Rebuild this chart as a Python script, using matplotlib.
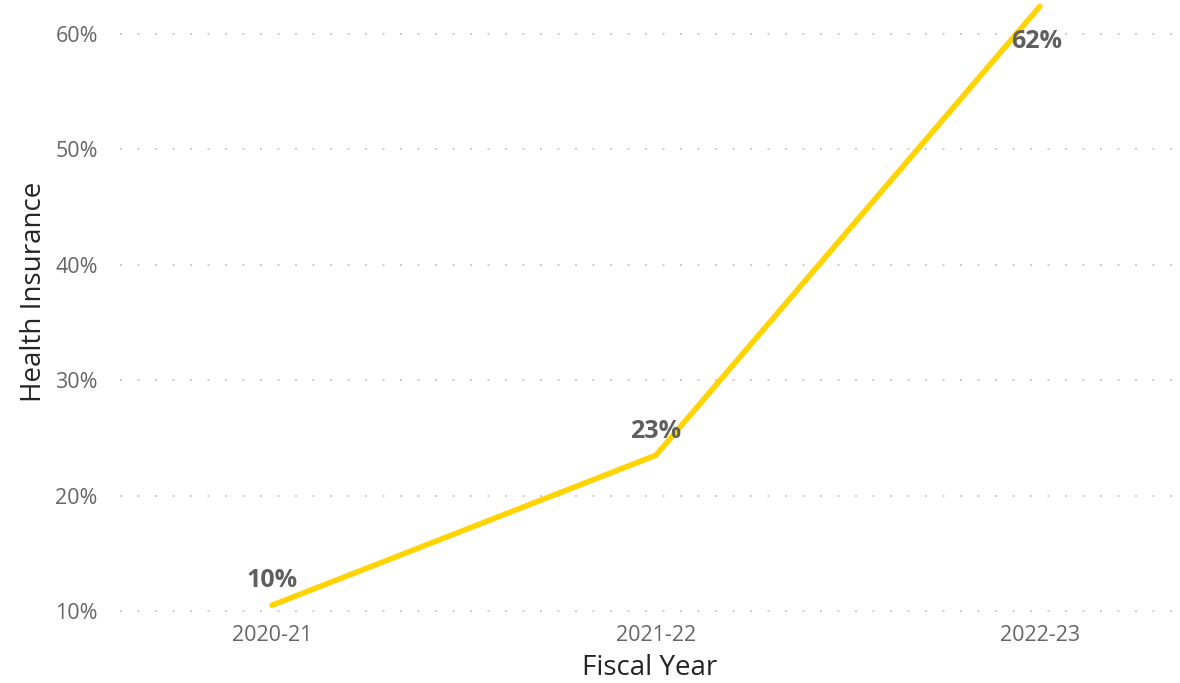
import matplotlib.pyplot as plt
from matplotlib.ticker import FuncFormatter

# data
years = ["2020-21", "2021-22", "2022-23"]
health_pct = [10.5, 23.5, 62.4]
labels = ["10%", "23%", "62%"]
label_offsets = [(0, 18), (0, 17), (-2, -25)]
yticks = [10, 20, 30, 40, 50, 60]

plt.rcParams['font.family'] = ['Open Sans', 'DejaVu Sans']

fig = plt.figure(figsize=(11.8, 6.83), dpi=100)
ax = fig.add_axes([120 / 1180, 1 - 614 / 683, 1 - 120 / 1180, 614 / 683])

x = list(range(len(years)))
ax.plot(x, health_pct, color="#FFD400", lw=4.0, solid_capstyle="round",
        solid_joinstyle="miter", zorder=3)

for xi, yi, txt, off in zip(x, health_pct, labels, label_offsets):
    ax.annotate(txt, (xi, yi), xytext=off, textcoords="offset points",
                ha="center", va="center", fontsize=18, fontweight="bold",
                color="#5f5f5f", zorder=4)

ax.set_xlim(-0.396, 2.365)
ax.set_ylim(9.74, 62.95)
ax.set_xticks(x)
ax.set_xticklabels(years)
ax.set_yticks(yticks)
ax.yaxis.set_major_formatter(FuncFormatter(lambda v, p: f"{v:.0f}%"))

ax.grid(axis="y", color="#cccccc", linestyle=(0, (1, 8)), lw=1.4)
ax.grid(axis="x", visible=False)
for s in ax.spines.values():
    s.set_visible(False)
ax.tick_params(length=0, labelsize=15.5, labelcolor="#666666")
ax.tick_params(axis="y", pad=16)
ax.tick_params(axis="x", pad=8)

ax.set_xlabel("Fiscal Year", fontsize=20, color="#252423", labelpad=6)
ax.set_ylabel("Health Insurance", fontsize=20, color="#252423")
ax.yaxis.set_label_coords(-0.068, 0.525)

fig.savefig("out.png", dpi=100)
